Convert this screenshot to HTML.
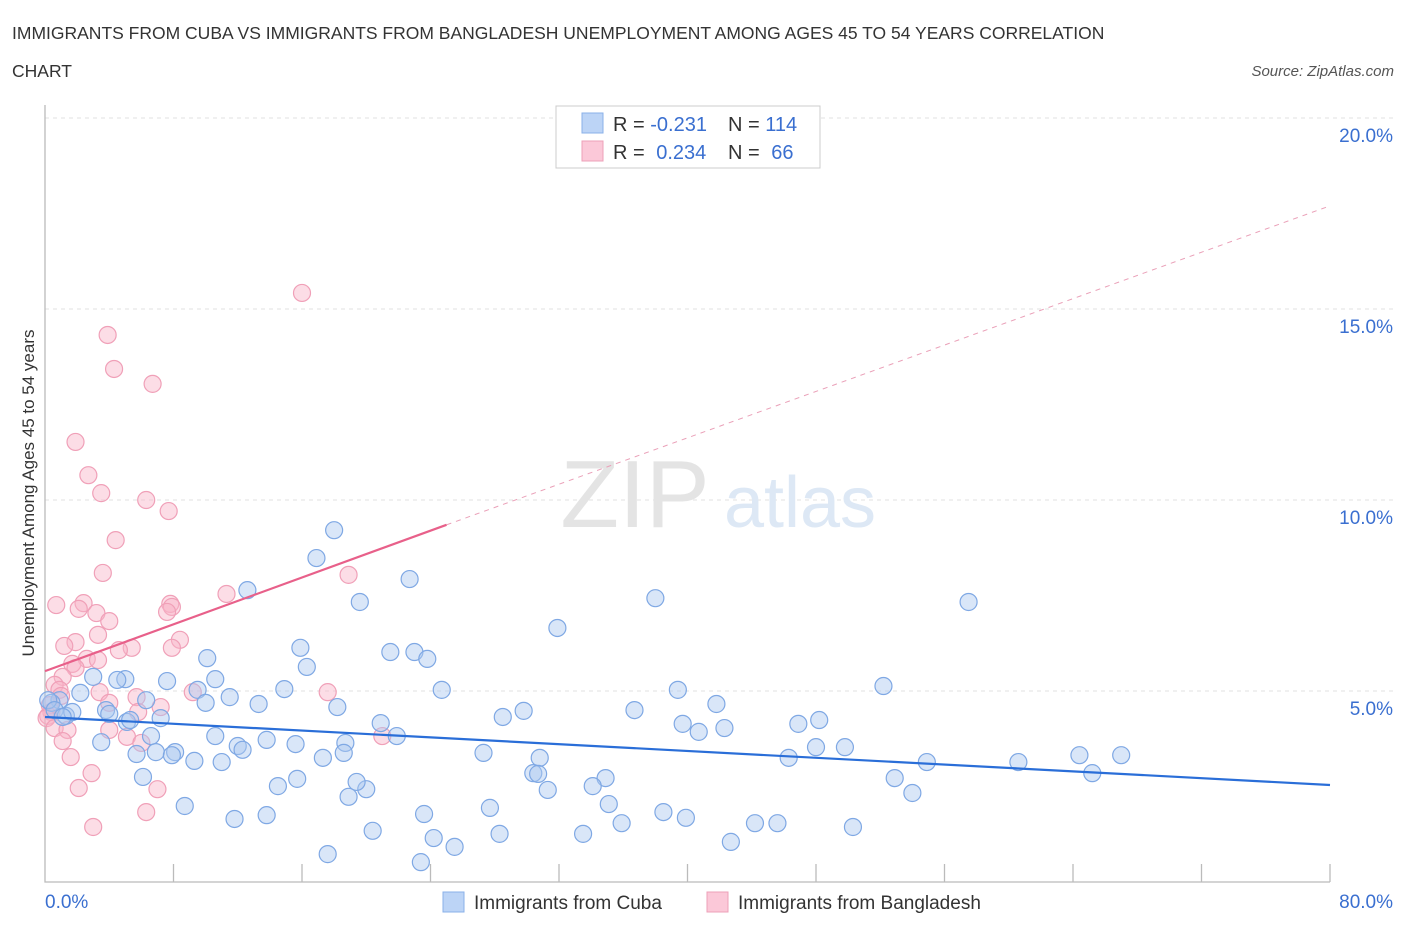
<!DOCTYPE html>
<html><head><meta charset="utf-8"><style>
body{margin:0;background:#fff;width:1406px;height:930px;overflow:hidden;font-family:"Liberation Sans",sans-serif}
text{font-family:"Liberation Sans",sans-serif}
</style></head><body>
<svg id="chart" width="1406" height="930" xmlns="http://www.w3.org/2000/svg">
<text x="12" y="39" font-size="17.5" fill="#333">IMMIGRANTS FROM CUBA VS IMMIGRANTS FROM BANGLADESH UNEMPLOYMENT AMONG AGES 45 TO 54 YEARS CORRELATION</text>
<text x="12" y="77" font-size="17.5" fill="#333">CHART</text>
<text x="1394" y="76" font-size="15" fill="#555" font-style="italic" text-anchor="end">Source: ZipAtlas.com</text>
<g id="grid"></g>
<text x="635" y="527" font-size="96" fill="#e4e4e4" font-family="Liberation Serif" text-anchor="middle">ZIP</text>
<text x="800" y="527" font-size="72" fill="#dde8f5" text-anchor="middle">atlas</text>
<g id="axes"></g>
<g id="points"></g>
<g id="trends"></g>
<text transform="translate(34,493) rotate(-90)" font-size="17" fill="#333" text-anchor="middle">Unemployment Among Ages 45 to 54 years</text>
<g>
<rect x="556" y="106" width="264" height="62" fill="#fff" stroke="#ccc"/>
<rect x="582" y="113" width="21" height="20" fill="#bcd4f6" stroke="#8ab0e8"/>
<rect x="582" y="141" width="21" height="20" fill="#fbc8d8" stroke="#eea0b8"/>
<text x="613" y="131" font-size="20" fill="#333">R = <tspan fill="#3a6fd0">-0.231</tspan></text>
<text x="728" y="131" font-size="20" fill="#333">N = <tspan fill="#3a6fd0">114</tspan></text>
<text x="613" y="159" font-size="20" fill="#333">R = <tspan fill="#3a6fd0" dx="6">0.234</tspan></text>
<text x="728" y="159" font-size="20" fill="#333">N = <tspan fill="#3a6fd0" dx="6">66</tspan></text>
</g>
<g>
<rect x="443" y="892" width="21" height="20" fill="#bcd4f6" stroke="#8ab0e8"/>
<text x="474" y="909" font-size="19" fill="#333">Immigrants from Cuba</text>
<rect x="707" y="892" width="21" height="20" fill="#fbc8d8" stroke="#eea0b8"/>
<text x="738" y="909" font-size="19" fill="#333">Immigrants from Bangladesh</text>
</g>
</svg>
<script>
const yTicks=[5,10,15,20];
const yTickLabels=["5.0%","10.0%","15.0%","20.0%"];
const xTickLabels=["0.0%","80.0%"];
const cubaX=[18.0,16.9,22.7,19.6,12.6,31.9,38.0,57.5,21.5,23.0,23.8,15.9,16.3,10.1,10.6,7.6,9.5,10.0,11.5,13.3,14.9,18.2,24.7,28.5,29.8,36.7,39.4,41.8,39.7,40.7,42.3,46.9,48.2,52.2,48.0,49.8,46.3,52.9,54.0,54.9,60.6,64.4,65.2,67.0,5.0,4.5,3.0,2.2,0.9,0.4,0.2,0.6,1.3,1.7,1.1,3.8,4.0,5.1,5.3,6.3,7.2,6.6,3.5,5.7,6.9,8.1,7.9,9.3,10.6,12.0,12.3,13.8,15.6,17.3,18.7,18.6,20.9,21.9,27.3,30.8,30.4,30.7,31.3,34.9,34.1,35.1,35.9,38.5,39.9,44.2,45.6,50.3,42.7,33.5,28.3,27.7,24.2,23.6,25.5,23.4,17.6,20.4,20.0,19.4,18.9,14.5,13.8,11.8,8.7,6.1,15.7,11.0];
const cubaY=[9.21,8.48,7.93,7.33,7.64,6.65,7.43,7.33,6.02,6.02,5.84,6.13,5.63,5.86,5.31,5.26,5.03,4.69,4.84,4.66,5.05,4.58,5.03,4.32,4.48,4.50,5.03,4.66,4.14,3.93,4.03,4.14,4.24,5.13,3.53,3.53,3.25,2.72,2.33,3.14,3.14,3.32,2.85,3.32,5.31,5.29,5.37,4.95,4.76,4.69,4.76,4.50,4.35,4.45,4.32,4.50,4.40,4.19,4.24,4.76,4.29,3.82,3.66,3.35,3.40,3.40,3.32,3.17,3.82,3.56,3.46,3.72,3.61,3.25,3.64,3.38,4.16,3.82,3.38,3.25,2.85,2.83,2.41,2.72,2.51,2.04,1.54,1.83,1.68,1.54,1.54,1.44,1.05,1.26,1.26,1.94,1.15,1.78,0.92,0.52,0.73,1.34,2.43,2.62,2.23,2.51,1.75,1.65,1.99,2.75,2.70,3.14];
const bangX=[16.0,3.9,4.3,6.7,1.9,2.7,3.5,6.3,7.7,4.4,3.6,18.9,0.7,2.4,2.1,3.2,4.0,11.3,7.8,7.9,7.6,3.3,1.9,1.2,8.4,7.9,5.4,4.6,2.6,3.3,1.7,1.9,1.1,0.6,0.9,1.0,3.4,5.7,9.2,17.6,4.0,5.8,7.2,0.3,0.4,0.2,0.1,0.6,1.4,4.0,5.1,6.0,1.1,1.6,21.0,2.9,2.1,7.0,6.3,3.0];
const bangY=[15.42,14.32,13.43,13.04,11.52,10.65,10.18,10.0,9.71,8.95,8.09,8.04,7.25,7.30,7.15,7.04,6.83,7.54,7.28,7.20,7.07,6.47,6.28,6.18,6.34,6.13,6.13,6.07,5.84,5.81,5.71,5.60,5.37,5.16,5.03,4.87,4.97,4.84,4.97,4.97,4.69,4.45,4.58,4.63,4.45,4.35,4.29,4.03,3.98,3.98,3.80,3.64,3.69,3.27,3.82,2.85,2.46,2.43,1.83,1.44];
const cubaTrend=[[0,4.32],[80,2.54]];
const bangTrendSolid=[[0,5.52],[25,9.35]];
const bangTrendDash=[[25,9.35],[80,17.7]];
const NS="http://www.w3.org/2000/svg";
const xs=v=>45+v*(1330-45)/80;
const ys=v=>882-v*(882-118)/20;
function mk(tag,attrs,parent){const e=document.createElementNS(NS,tag);for(const k in attrs)e.setAttribute(k,attrs[k]);parent.appendChild(e);return e;}
const grid=document.getElementById('grid'),axes=document.getElementById('axes'),pts=document.getElementById('points'),tr=document.getElementById('trends');
yTicks.forEach((t,i)=>{
 const l=mk('line',{x1:45,x2:1395,y1:ys(t),y2:ys(t),stroke:'#e2e2e2','stroke-dasharray':'4 4'},grid);
 
 
 const tx=mk('text',{x:1393,y:ys(t)+24,'font-size':19,fill:'#3a6fd0','text-anchor':'end'},grid);
 tx.textContent=yTickLabels[i];
 
 
});
const ax=mk('path',{d:'M45 105 V882 H1330',stroke:'#bbb',fill:'none','stroke-width':1.3},axes);


for(let i=1;i<=10;i++){
 const t=mk('line',{x1:xs(i*8),x2:xs(i*8),y1:864,y2:882,stroke:'#bbb','stroke-width':1.3},axes);
 
 
}
const x0=mk('text',{x:45,y:908,'font-size':19,fill:'#3a6fd0'},axes);x0.textContent=xTickLabels[0];


const x1=mk('text',{x:1393,y:908,'font-size':19,fill:'#3a6fd0','text-anchor':'end'},axes);x1.textContent=xTickLabels[1];


bangX.forEach((v,i)=>{
 const c=mk('circle',{cx:xs(v),cy:ys(bangY[i]),r:8.5,fill:'rgba(248,180,200,0.45)',stroke:'#f0a0b8','stroke-width':1.2},pts);
 
 
});
cubaX.forEach((v,i)=>{
 const c=mk('circle',{cx:xs(v),cy:ys(cubaY[i]),r:8.5,fill:'rgba(170,200,240,0.45)',stroke:'#7fa8e4','stroke-width':1.2},pts);
 
 
});
const l1=mk('line',{x1:xs(cubaTrend[0][0]),y1:ys(cubaTrend[0][1]),x2:xs(cubaTrend[1][0]),y2:ys(cubaTrend[1][1]),stroke:'#2a6ed8','stroke-width':2.2},tr);


const l2=mk('line',{x1:xs(bangTrendSolid[0][0]),y1:ys(bangTrendSolid[0][1]),x2:xs(bangTrendSolid[1][0]),y2:ys(bangTrendSolid[1][1]),stroke:'#e8608a','stroke-width':2.2},tr);


const l3=mk('line',{x1:xs(bangTrendDash[0][0]),y1:ys(bangTrendDash[0][1]),x2:xs(bangTrendDash[1][0]),y2:ys(bangTrendDash[1][1]),stroke:'#eaa0b8','stroke-width':1,'stroke-dasharray':'5 5'},tr);


</script>
</body></html>
